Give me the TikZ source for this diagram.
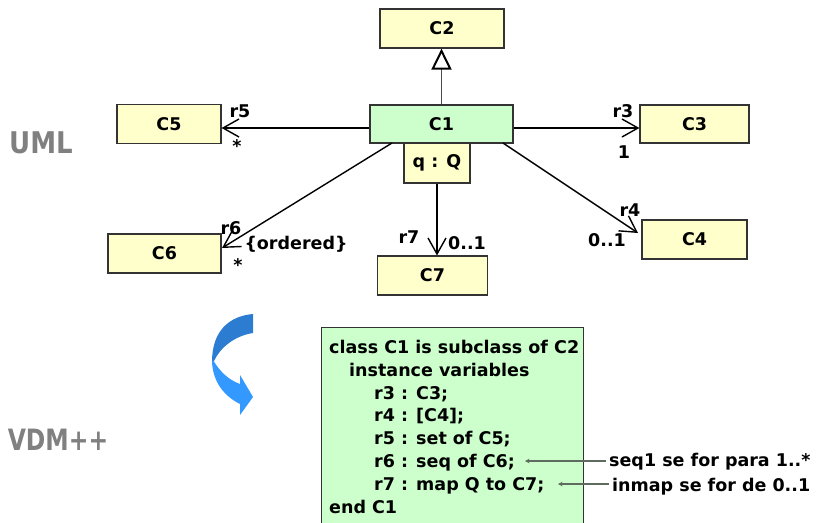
\documentclass[tikz,border=0pt]{standalone}
\usepackage{fontspec}
\setmainfont{DejaVu Sans}
\usetikzlibrary{arrows.meta}

\definecolor{clsyellow}{HTML}{FFFFCC}
\definecolor{clsgreen}{HTML}{CCFFCC}
\definecolor{boxline}{HTML}{333333}
\definecolor{labelgray}{HTML}{808080}
\definecolor{flowdark}{HTML}{2C7CD2}
\definecolor{flowlight}{HTML}{3399FF}
\definecolor{notegray}{HTML}{5F6B5F}

\begin{document}
\begin{tikzpicture}[x=1pt,y=-1pt,
  txt/.style={font=\fontsize{17.5}{20}\selectfont\bfseries, inner sep=0pt},
  cls/.style={txt, draw=boxline, line width=1.2pt, fill=clsyellow},
  assoc/.style={line width=1.4pt,
    -{Straight Barb[length=16pt,width=18pt,line width=1.4pt]}},
  gen/.style={draw=black!70, line width=1pt,
    -{Triangle[open,length=21pt,width=20pt,line width=2pt,color=black]}},
  notearrow/.style={draw=notegray, line width=1.1pt,
    -{Stealth[length=4.5pt,width=4.5pt]}},
  codeline/.style={txt, anchor=base west},
  bigtag/.style={text=labelgray, inner sep=0pt}
]
\useasboundingbox (0,0) rectangle (818,522);

% class boxes
\node[cls, minimum width=124pt, minimum height=39pt] (C2) at (442,28.5) {C2};
\node[cls, fill=clsgreen, minimum width=143pt, minimum height=38pt] (C1) at (441.5,124) {C1};
\node[cls, minimum width=66pt, minimum height=40pt] (qQ) at (437,163) {q : Q};
\node[cls, minimum width=104pt, minimum height=39pt] (C5) at (169,124) {C5};
\node[cls, minimum width=113pt, minimum height=39pt] (C6) at (164.5,253.5) {C6};
\node[cls, minimum width=109pt, minimum height=38pt] (C3) at (694.5,124) {C3};
\node[cls, minimum width=105pt, minimum height=39pt] (C4) at (694.5,239.5) {C4};
\node[cls, minimum width=110pt, minimum height=39pt] (C7) at (432.5,275.5) {C7};

% generalisation
\draw[gen] (C1.north) -- (C1.north |- C2.south);

% associations
\draw[assoc] ([yshift=-4pt]C1.west) -- ([yshift=-4pt]C5.east);
\draw[assoc] ([yshift=-4pt]C1.east) -- ([yshift=-4pt]C3.east -| C3.west);
\coordinate (s6) at (392,143);
\coordinate (t6) at (222,248);
\coordinate (s4) at (503,143);
\coordinate (t4) at (638,233);
\draw[assoc] (s6) -- (t6);
\draw[assoc] (s4) -- (t4);
\draw[assoc] (qQ.south) -- (qQ.south |- C7.north);

% role names and multiplicities
\node[txt] (lr5) at (240,111) {r5};
\node[txt] (m5) at (237,146) {*};
\node[txt] (lr3) at (623,111) {r3};
\node[txt] (m3) at (624,152) {1};
\node[txt] (lr6) at (231,228) {r6};
\node[txt] (ord) at (296,244) {\{ordered\}};
\node[txt] (m6) at (238,265) {*};
\node[txt] (lr4) at (630,210) {r4};
\node[txt] (m4) at (607,240) {0..1};
\node[txt] (lr7) at (409,237) {r7};
\node[txt] (m7) at (467,243) {0..1};

% side headings
\node[bigtag, font=\fontsize{26}{30}\selectfont\bfseries] (uml) at (41,143)
  {\scalebox{1}[1.15]{UML}};
\node[bigtag, font=\fontsize{23.5}{28}\selectfont\bfseries] (vdm) at (58,440)
  {\scalebox{1}[1.25]{VDM++}};

% curved transition arrow
\fill[flowdark] (253,314) .. controls (230,316) and (212,330) .. (212,362)
  -- (214,361) .. controls (220,348) and (234,336) .. (253,333) -- cycle;
\fill[flowlight] (213,360) .. controls (220,372) and (229,380) .. (240,384)
  -- (240,375) -- (253,397) -- (240,415) -- (240,404)
  .. controls (224,396) and (213,382) .. (212,362) -- cycle;

% VDM++ class text
\node[draw=boxline, line width=1.2pt, fill=clsgreen, anchor=north west,
      minimum width=262.5pt, minimum height=198pt, inner sep=0pt] (code) at (320.5,327) {};
\node[codeline] (k1) at (329,353) {class C1 is subclass of C2};
\node[codeline] (k2) at (349,376) {instance variables};
\node[codeline] (k3) at (374,399) {r3 : C3;};
\node[codeline] (k4) at (374,421.5) {r4 : [C4];};
\node[codeline] (k5) at (374,444) {r5 : set of C5;};
\node[codeline] (k6) at (374,467) {r6 : seq of C6;};
\node[codeline] (k7) at (374,490) {r7 : map Q to C7;};
\node[codeline] (k8) at (329,513) {end C1};

% remarks
\node[codeline] (n6) at (609,466) {seq1 se for para 1..*};
\node[codeline] (n7) at (612,491) {inmap se for de 0..1};
\coordinate (tip6) at (525,461);
\coordinate (tip7) at (558,484);
\draw[notearrow] ([xshift=-3pt]n6.west |- tip6) -- (tip6);
\draw[notearrow] ([xshift=-3pt]n7.west |- tip7) -- (tip7);
\end{tikzpicture}
\end{document}
